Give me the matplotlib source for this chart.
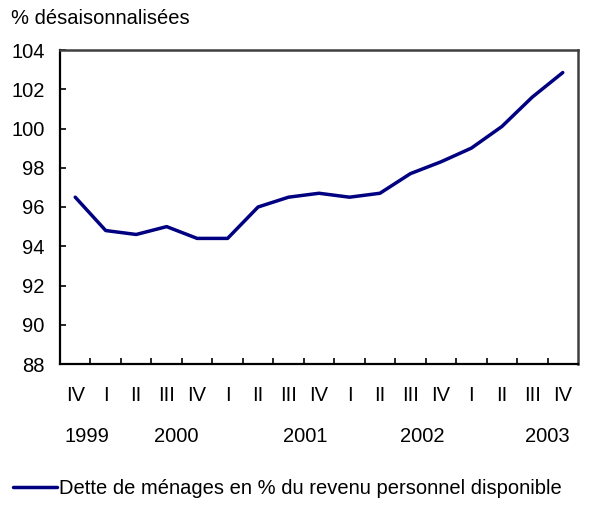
import matplotlib.pyplot as plt

# quarterly household debt, % of disposable income (seasonally adjusted)
quarters = ['IV', 'I', 'II', 'III', 'IV', 'I', 'II', 'III', 'IV',
            'I', 'II', 'III', 'IV', 'I', 'II', 'III', 'IV']
debt_ratio = [96.5, 94.8, 94.6, 95.0, 94.4, 94.4, 96.0, 96.5, 96.7,
              96.5, 96.7, 97.7, 98.3, 99.0, 100.1, 101.6, 102.85]
years = ['1999', '2000', '2001', '2002', '2003']
year_pos = [0.4, 3.3, 7.55, 11.4, 15.5]  # where the year labels sit (category units)

plt.rcParams['font.family'] = ['Liberation Sans', 'DejaVu Sans']
FS = 14.5

W, H = 591, 531
fig = plt.figure(figsize=(W / 100, H / 100), dpi=100)
ax = fig.add_axes([60 / W, 1 - 364 / H, (578 - 60) / W, (364 - 50) / H])

x = list(range(len(quarters)))
line, = ax.plot(x, debt_ratio, color='#000080', lw=2.5, solid_capstyle='round',
                label='Dette de ménages en % du revenu personnel disponible')

ax.set_xlim(-0.5, len(quarters) - 0.5)
ax.set_ylim(88, 104)
ax.set_yticks(range(88, 105, 2))

# quarter labels centred, tick marks on boundaries
ax.set_xticks(x)
ax.set_xticklabels(quarters)
ax.set_xticks([i + 0.5 for i in x[:-1]], minor=True)
ax.tick_params(axis='x', which='major', length=0, pad=16, labelsize=FS)
ax.tick_params(axis='x', which='minor', direction='in', length=4, width=1.2)
ax.tick_params(axis='y', direction='in', length=4, width=1.2, pad=11, labelsize=FS)

for s in ['left', 'bottom']:
    ax.spines[s].set_linewidth(1.6)
    ax.spines[s].set_color('black')
for s in ['top', 'right']:
    ax.spines[s].set_linewidth(1.8)
    ax.spines[s].set_color('#404040')

for yr, xp in zip(years, year_pos):
    ax.text(xp, -0.23, yr, transform=ax.get_xaxis_transform(),
            ha='center', va='center', fontsize=FS)

fig.text(11 / W, 1 - 18 / H, '% désaisonnalisées', ha='left', va='center', fontsize=FS)

fig.legend(handles=[line], loc='center left', bbox_to_anchor=(13 / W, 1 - 489 / H),
           frameon=False, fontsize=FS, handlelength=2.2, handletextpad=0.1,
           borderpad=0, borderaxespad=0)

fig.savefig('out.png', dpi=100)
